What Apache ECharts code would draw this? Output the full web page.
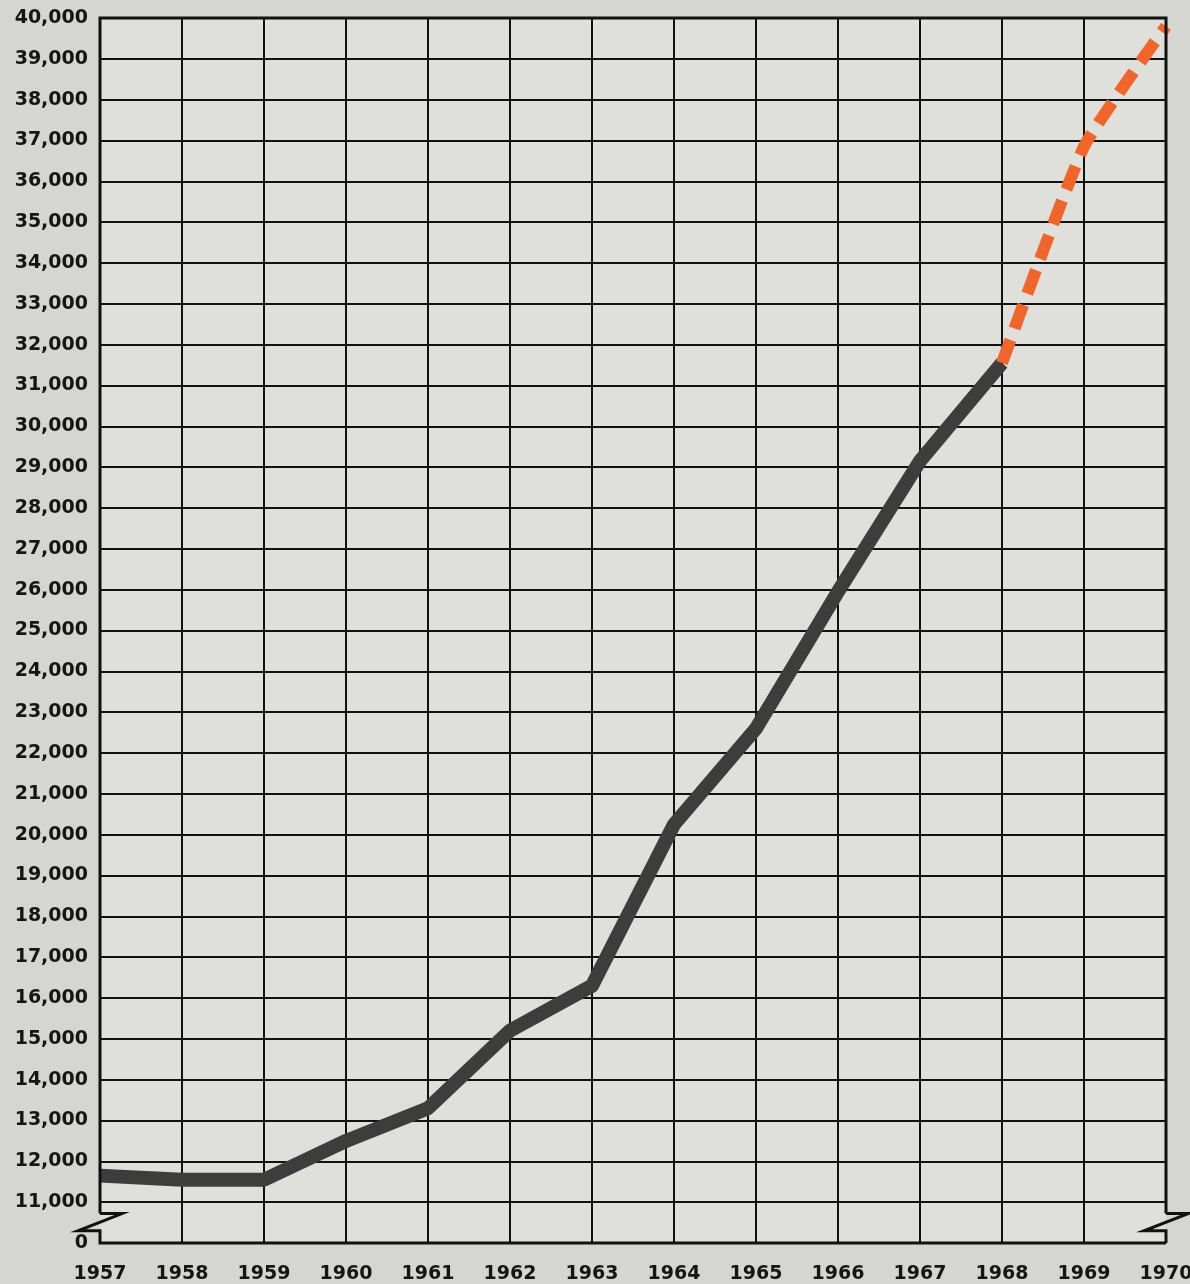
<!DOCTYPE html>
<html>
<head>
<meta charset="utf-8">
<script src="https://cdn.jsdelivr.net/npm/echarts@6/dist/echarts.min.js"></script>
<style>
  html, body { margin: 0; padding: 0; background: #d5d5d1; }
  #chart { width: 1190px; height: 1284px; }
</style>
</head>
<body>
<div id="chart"></div>
<script>
  // years on the x axis
  var years = [1957, 1958, 1959, 1960, 1961, 1962, 1963, 1964, 1965, 1966, 1967, 1968, 1969, 1970];
  // actual figures (solid dark line)
  var actual = [11650, 11550, 11550, 12500, 13300, 15200, 16300, 20250, 22600, 25950, 29150, 31550, null, null];
  // projection (orange dashes)
  var projected = [null, null, null, null, null, null, null, null, null, null, null, 31550, 36850, 39800];
  // y axis: bottom line stands for 0, the rest starts at 11,000
  var yMin = 10000, yMax = 40000, yStep = 1000;

  var labelFont = { color: '#151515', fontSize: 19, fontWeight: 'bold', fontFamily: 'DejaVu Sans' };

  var myChart = echarts.init(document.getElementById('chart'));

  function toPairs(arr) {
    return years.map(function (y, i) { return [y, arr[i]]; });
  }

  myChart.setOption({
    backgroundColor: '#d5d5d1',
    animation: false,
    grid: {
      left: 100, right: 24, top: 18, bottom: 41,
      outerBoundsMode: 'none',
      containLabel: false,
      show: true,
      backgroundColor: '#dfdfdb',
      borderWidth: 0
    },
    xAxis: {
      type: 'value',
      min: years[0],
      max: years[years.length - 1],
      interval: 1,
      axisLine: { show: false },
      axisTick: { show: false },
      splitLine: { show: true, showMinLine: false, showMaxLine: false, lineStyle: { color: '#111', width: 2 } },
      axisLabel: Object.assign({ margin: 22, formatter: function (v) { return String(v); } }, labelFont)
    },
    yAxis: {
      type: 'value',
      min: yMin,
      max: yMax,
      interval: yStep,
      axisLine: { show: false },
      axisTick: { show: false },
      splitLine: { show: true, lineStyle: { color: '#111', width: 2 } },
      axisLabel: Object.assign({
        margin: 12,
        formatter: function (v) {
          if (v === yMin) return '0';
          return v.toLocaleString('en-US');
        }
      }, labelFont)
    },
    series: [
      {
        name: 'actual',
        type: 'line',
        data: toPairs(actual),
        symbol: 'none',
        connectNulls: false,
        lineStyle: { color: '#3d3d3d', width: 14, cap: 'butt', join: 'round' },
        z: 3
      },
      {
        name: 'projected',
        type: 'line',
        data: toPairs(projected),
        symbol: 'none',
        smooth: 0.15,
        lineStyle: { color: '#f0652a', width: 12, type: [25, 12], cap: 'butt' },
        z: 4
      }
    ]
  });

  // frame with zigzag break marks on the left and right edges
  function drawFrame() {
    var p = function (x, y) { return myChart.convertToPixel({ gridIndex: 0 }, [x, y]); };
    var tl = p(years[0], yMax), br = p(years[years.length - 1], yMin);
    var u = br[1] - p(years[0], yMin + yStep)[1]; // px per 1000
    var yA = br[1] - u * 0.72, yB = br[1] - u * 0.3;
    var L = tl[0], R = br[0];
    var frame = { stroke: '#111', lineWidth: 3, fill: null };
    var zig = function (x) {
      return [[x, yA], [x + 22, yA], [x - 22, yB], [x, yB]];
    };
    myChart.setOption({
      graphic: [
        { type: 'polyline', shape: { points: [[L, yA], [L, tl[1]], [R, tl[1]], [R, yA]] }, style: frame, z: 10 },
        { type: 'polyline', shape: { points: zig(L).concat([[L, br[1]], [R, br[1]]]) }, style: frame, z: 10 },
        { type: 'polyline', shape: { points: zig(R).concat([[R, br[1]]]) }, style: frame, z: 10 }
      ]
    });
  }
  drawFrame();
</script>
</body>
</html>
